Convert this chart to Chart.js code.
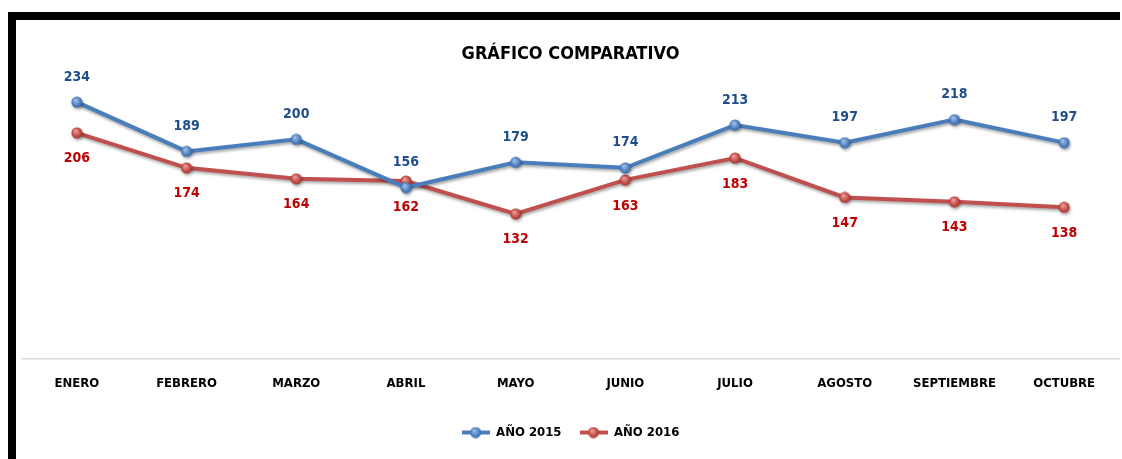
<!DOCTYPE html>
<html>
<head>
<meta charset="utf-8">
<script src="https://cdn.jsdelivr.net/npm/chart.js@4.4.0/dist/chart.umd.min.js"></script>
<style>
  body { margin: 0; background: #fff; }
  #frame { position: absolute; left: 8px; top: 12px; width: 1112px; height: 447px;
           border-top: 8px solid #000; border-left: 8px solid #000; box-sizing: border-box; }
  #wrap { position: absolute; left: 0; top: 0; width: 1122px; height: 459px; }
</style>
</head>
<body>
<div id="frame"></div>
<div id="wrap"><canvas id="chart"></canvas></div>
<script>
// datos del gráfico
const meses = ["ENERO", "FEBRERO", "MARZO", "ABRIL", "MAYO", "JUNIO", "JULIO", "AGOSTO", "SEPTIEMBRE", "OCTUBRE"];
const anio2015 = [234, 189, 200, 156, 179, 174, 213, 197, 218, 197];
const anio2016 = [206, 174, 164, 162, 132, 163, 183, 147, 143, 138];

const fuente = "'Liberation Sans Narrow', 'Arial Narrow', 'DejaVu Sans Condensed', sans-serif";

// marcador tipo esfera
function esfera(color, claro) {
    const c = document.createElement('canvas');
    c.width = 12; c.height = 12;
    const g = c.getContext('2d');
    const grad = g.createRadialGradient(4.5, 4, 0.5, 6, 6, 6);
    grad.addColorStop(0, claro);
    grad.addColorStop(1, color);
    g.fillStyle = grad;
    g.beginPath();
    g.arc(6, 6, 5.5, 0, Math.PI * 2);
    g.fill();
    return c;
}

// simbolo de leyenda: linea + esfera
function simbolo(linea, color, claro) {
    const c = document.createElement('canvas');
    c.width = 28; c.height = 12;
    const g = c.getContext('2d');
    g.strokeStyle = linea;
    g.lineWidth = 4;
    g.beginPath();
    g.moveTo(0, 6); g.lineTo(28, 6);
    g.stroke();
    g.drawImage(esfera(color, claro), 8, 0);
    return c;
}

const puntoAzul = esfera('#2a5fa5', '#9cc0ec');
const puntoRojo = esfera('#a8281f', '#ee9a96');
const leyendaAzul = simbolo('#4a7ebb', '#2a5fa5', '#9cc0ec');
const leyendaRoja = simbolo('#c0504d', '#a8281f', '#ee9a96');

// sombra de las lineas
const sombra = {
    id: 'sombra',
    beforeDatasetsDraw(chart) {
        const ctx = chart.ctx;
        ctx.save();
        ctx.shadowColor = 'rgba(0,0,0,0.35)';
        ctx.shadowBlur = 3;
        ctx.shadowOffsetX = 1;
        ctx.shadowOffsetY = 2;
    },
    afterDatasetsDraw(chart) {
        chart.ctx.restore();
    }
};

// etiquetas de valores
const etiquetas = {
    id: 'etiquetas',
    afterDatasetsDraw(chart) {
        const ctx = chart.ctx;
        ctx.save();
        ctx.font = 'bold 14px ' + fuente;
        ctx.textAlign = 'center';
        ctx.textBaseline = 'middle';
        chart.data.datasets.forEach(function(ds, i) {
            const meta = chart.getDatasetMeta(i);
            meta.data.forEach(function(p, j) {
                if (i == 0) {
                    ctx.fillStyle = '#1f4e8c';
                    ctx.fillText(ds.data[j], p.x, p.y - 25);
                } else {
                    ctx.fillStyle = '#c00000';
                    ctx.fillText(ds.data[j], p.x, p.y + 26);
                }
            });
        });
        ctx.restore();
    }
};

new Chart(document.getElementById('chart'), {
    type: 'line',
    data: {
        labels: meses,
        datasets: [
            {
                label: 'AÑO 2015',
                data: anio2015,
                borderColor: '#4a7ebb',
                borderWidth: 4,
                pointStyle: puntoAzul,
                tension: 0
            },
            {
                label: 'AÑO 2016',
                data: anio2016,
                borderColor: '#c0504d',
                borderWidth: 4,
                pointStyle: puntoRojo,
                tension: 0
            }
        ]
    },
    options: {
        responsive: true,
        maintainAspectRatio: false,
        animation: false,
        layout: { autoPadding: false, padding: { left: 22, right: 3, top: 0, bottom: 10 } },
        plugins: {
            title: {
                display: true,
                text: 'GRÁFICO COMPARATIVO',
                color: '#000',
                font: { family: fuente, size: 18, weight: 'bold' },
                padding: { top: 44, bottom: 19 }
            },
            legend: {
                position: 'bottom',
                labels: {
                    usePointStyle: true,
                    pointStyleWidth: 28,
                    color: '#000',
                    font: { family: fuente, size: 13, weight: 'bold' },
                    padding: 18,
                    generateLabels(chart) {
                        return [
                            { text: 'AÑO 2015', pointStyle: leyendaAzul, datasetIndex: 0, fontColor: '#000', lineWidth: 0 },
                            { text: 'AÑO 2016', pointStyle: leyendaRoja, datasetIndex: 1, fontColor: '#000', lineWidth: 0 }
                        ];
                    }
                }
            },
            tooltip: { enabled: false }
        },
        scales: {
            x: {
                offset: true,
                grid: { display: false, drawTicks: false },
                border: { display: true, color: '#d9d9d9', width: 1.5 },
                ticks: {
                    color: '#000',
                    padding: 17,
                    maxRotation: 0,
                    font: { family: fuente, size: 13, weight: 'bold' }
                }
            },
            y: {
                display: false,
                min: 0,
                max: 250
            }
        }
    },
    plugins: [sombra, etiquetas]
});
</script>
</body>
</html>
